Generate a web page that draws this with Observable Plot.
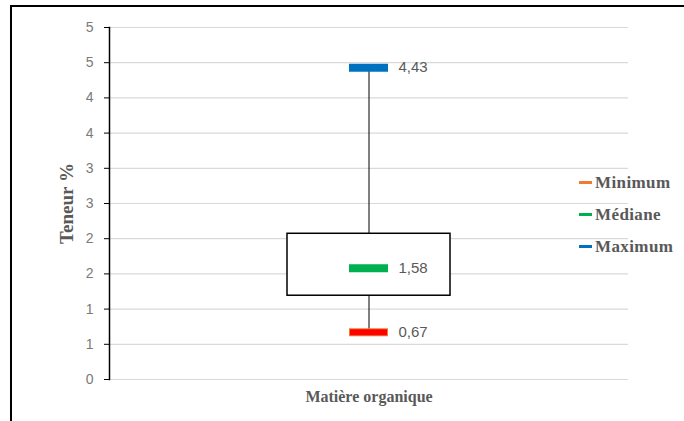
<!DOCTYPE html>
<html>
<head>
<meta charset="utf-8">
<script src="https://cdn.jsdelivr.net/npm/d3@7"></script>
<script src="https://cdn.jsdelivr.net/npm/@observablehq/plot@0.6"></script>
<style>
  html, body { margin: 0; padding: 0; background: #fff; }
  #wrap { position: relative; width: 684px; height: 421px; overflow: hidden; }
  #border { position: absolute; left: 10px; top: 5px; width: 700px; height: 440px;
            border-top: 2px solid #000; border-left: 2px solid #000; box-sizing: border-box; pointer-events: none; }
  #legend { position: absolute; left: 579px; top: 172px; font-family: "Liberation Serif", serif;
            font-weight: bold; font-size: 17px; color: #595959; letter-spacing: 0.4px; }
  .row { display: flex; align-items: center; height: 21px; margin-bottom: 11px; }
  .sw { width: 13px; height: 3px; margin-right: 3px; }
</style>
</head>
<body>
<div id="wrap">
  <div id="chart"></div>
  <div id="border"></div>
  <div id="legend"></div>
</div>
<script>
const categories = ["Matière organique"];
const minimum = [0.67];
const q1 = [1.19];
const median = [1.58];
const q3 = [2.07];
const maximum = [4.43];
const yTicks = [0, 0.5, 1, 1.5, 2, 2.5, 3, 3.5, 4, 4.5, 5];
const yTickLabels = ["0", "1", "1", "2", "2", "3", "3", "4", "4", "5", "5"];
const legendNames = ["Minimum", "Médiane", "Maximum"];
const legendColors = ["#ED7D31", "#00B050", "#0070C0"];

const data = categories.map((c, i) => ({
  cat: c, min: minimum[i], q1: q1[i], med: median[i], q3: q3[i], max: maximum[i]
}));
const fmt = v => v.toFixed(2).replace(".", ",");
const labelFont = "Liberation Sans, Arial, sans-serif";

const chart = Plot.plot({
  width: 684,
  height: 421,
  marginLeft: 109,
  marginRight: 56,
  marginTop: 27,
  marginBottom: 42,
  style: { background: "transparent", fontFamily: labelFont },
  x: { type: "band", domain: categories, paddingInner: 0, paddingOuter: 1.092, label: null },
  y: { domain: [0, 5], label: null },
  marks: [
    Plot.ruleY(yTicks, { stroke: "#d9d9d9", strokeWidth: 1.2 }),
    Plot.axisY({
      ticks: yTicks, tickSize: 5, tickPadding: 11, stroke: "#000",
      tickFormat: d => yTickLabels[yTicks.indexOf(d)],
      fontSize: 14, fill: "#7a7a7a", label: null
    }),
    Plot.axisX({
      tickSize: 0, tickPadding: 11, fontSize: 16, fontWeight: "bold",
      fontFamily: "Liberation Serif, serif", fill: "#595959", label: null
    }),
    Plot.frame({ anchor: "left", stroke: "#000", strokeWidth: 1.5 }),
    Plot.ruleX(data, { x: "cat", y1: "min", y2: "max", stroke: "#000", strokeWidth: 1 }),
    Plot.barY(data, { x: "cat", y1: "q1", y2: "q3", fill: "#fff", stroke: "#000", strokeWidth: 1.5 }),
    Plot.tickY(data, { x: "cat", y: "min", stroke: "#ED7D31", strokeWidth: 8, insetLeft: 62, insetRight: 62 }),
    Plot.tickY(data, { x: "cat", y: "min", stroke: "#FF0000", strokeWidth: 6, insetLeft: 63, insetRight: 63 }),
    Plot.tickY(data, { x: "cat", y: "med", stroke: "#00B050", strokeWidth: 8, insetLeft: 62, insetRight: 62 }),
    Plot.tickY(data, { x: "cat", y: "max", stroke: "#0070C0", strokeWidth: 8, insetLeft: 62, insetRight: 62 }),
    Plot.text(data, { x: "cat", y: "min", text: d => fmt(d.min), dx: 29.5, textAnchor: "start", fill: "#595959", fontSize: 15 }),
    Plot.text(data, { x: "cat", y: "med", text: d => fmt(d.med), dx: 29.5, textAnchor: "start", fill: "#595959", fontSize: 15 }),
    Plot.text(data, { x: "cat", y: "max", text: d => fmt(d.max), dx: 29.5, textAnchor: "start", fill: "#595959", fontSize: 15 }),
    Plot.text(["Teneur %"], {
      frameAnchor: "left", dx: -43, rotate: -90, textAnchor: "middle", text: d => d,
      fontSize: 19, fontWeight: "bold", fontFamily: "Liberation Serif, serif", fill: "#595959"
    })
  ]
});
document.getElementById("chart").appendChild(chart);

const legend = document.getElementById("legend");
legendNames.forEach((n, i) => {
  const row = document.createElement("div");
  row.className = "row";
  const sw = document.createElement("div");
  sw.className = "sw";
  sw.style.background = legendColors[i];
  const t = document.createElement("span");
  t.textContent = n;
  row.appendChild(sw);
  row.appendChild(t);
  legend.appendChild(row);
});
</script>
</body>
</html>
